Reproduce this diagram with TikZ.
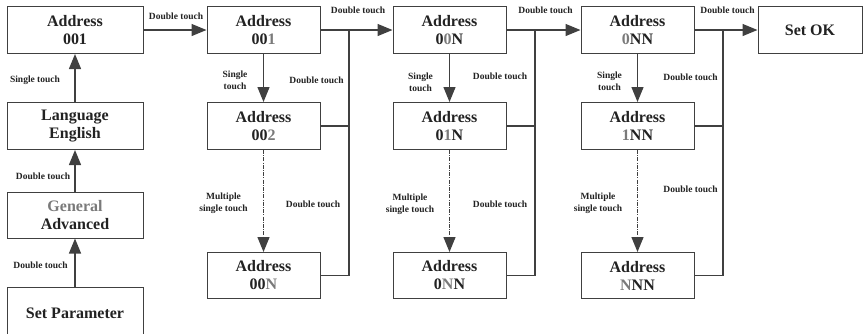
\documentclass[tikz,border=0pt]{standalone}
\usepackage{fontspec}
\setmainfont{Liberation Serif}
\usetikzlibrary{arrows.meta}
\definecolor{ink}{HTML}{222222}
\definecolor{lgrey}{HTML}{7A7A7A}
\definecolor{linec}{HTML}{404040}
\newcommand{\gr}[1]{\textcolor{lgrey}{#1}}
\begin{document}
\begin{tikzpicture}[x=1pt,y=-1pt,
 box/.style={draw=linec, line width=1pt, minimum height=47pt, inner sep=0pt, align=center, text=ink, font=\fontsize{16}{18}\selectfont\bfseries},
 colA/.style={box, minimum width=136pt},
 narrow/.style={box, minimum width=113pt},
 arr/.style={draw=linec, line width=1.3pt, -{Triangle[length=15pt,width=12pt]}},
 wire/.style={draw=linec, line width=1.3pt},
 dd/.style={arr, dash pattern=on 4pt off 1.2pt on 1pt off 1.2pt},
 lbl/.style={align=center, text=ink, inner sep=0pt, font=\fontsize{9.5}{12}\selectfont\bfseries}]
\useasboundingbox (0,0) rectangle (863,333);
\clip (0,0) rectangle (863,333);
% column 1
\node[colA] (a1) at (75,30) {Address\\001};
\node[colA] (a2) at (75,126) {Language\\English};
\node[colA, minimum height=46pt] (a3) at (75,215) {\gr{General}\\Advanced};
\node[colA, minimum height=52pt] (a4) at (75,313) {Set Parameter};
% column 2
\node[narrow] (b1) at (263.5,30) {Address\\00\gr{1}};
\node[narrow] (b2) at (263.5,126) {Address\\00\gr{2}};
\node[narrow, minimum height=46pt] (b3) at (263.5,275.5) {Address\\00\gr{N}};
% column 3
\node[narrow] (c1) at (449.5,30) {Address\\0\gr{0}N};
\node[narrow] (c2) at (449.5,126) {Address\\0\gr{1}N};
\node[narrow, minimum height=46pt] (c3) at (449.5,275.5) {Address\\0\gr{N}N};
% column 4
\node[narrow] (d1) at (637.5,30) {Address\\\gr{0}NN};
\node[narrow] (d2) at (637.5,126) {Address\\\gr{1}NN};
\node[narrow, minimum height=46pt] (d3) at (637.5,275.5) {Address\\\gr{N}NN};
% set ok
\node[box, minimum width=104pt] (e1) at (810,30) {Set OK};
% junctions
\coordinate (j1) at (349,30);
\coordinate (j2) at (535,30);
\coordinate (j3) at (723,30);
% column 1 arrows
\draw[arr] (a4.north) -- (a3.south);
\draw[arr] (a3.north) -- (a2.south);
\draw[arr] (a2.north) -- (a1.south);
\draw[arr] (a1.east) -- (b1.west);
% column 2
\draw[arr] (b1.south) -- (b2.north);
\draw[dd] (b2.south) -- (b3.north);
\draw[arr] (b1.east) -- (c1.west);
\draw[wire] (b3.east) -| (j1);
\draw[wire] (b2.east) -- (b2.east -| j1);
% column 3
\draw[arr] (c1.south) -- (c2.north);
\draw[dd] (c2.south) -- (c3.north);
\draw[arr] (c1.east) -- (d1.west);
\draw[wire] (c3.east) -| (j2);
\draw[wire] (c2.east) -- (c2.east -| j2);
% column 4
\draw[arr] (d1.south) -- (d2.north);
\draw[dd] (d2.south) -- (d3.north);
\draw[arr] (d1.east) -- (e1.west);
\draw[wire] (d3.east) -| (j3);
\draw[wire] (d2.east) -- (d2.east -| j3);
% labels
\node[lbl] (l1) at (176,16) {Double touch};
\node[lbl] (l2) at (35,80) {Single touch};
\node[lbl] (l3) at (43,176) {Double touch};
\node[lbl] (l4) at (40.5,265) {Double touch};
\node[lbl] (l5) at (358,10) {Double touch};
\node[lbl] (l6) at (235,80) {Single\\touch};
\node[lbl] (l7) at (316.5,80) {Double touch};
\node[lbl] (l8) at (223.5,203) {Multiple\\single touch};
\node[lbl] (l9) at (313,204) {Double touch};
\node[lbl] (l10) at (545.5,10) {Double touch};
\node[lbl] (l11) at (420.5,82) {Single\\touch};
\node[lbl] (l12) at (500,76) {Double touch};
\node[lbl] (l13) at (410,204) {Multiple\\single touch};
\node[lbl] (l14) at (500,204) {Double touch};
\node[lbl] (l15) at (727.5,10) {Double touch};
\node[lbl] (l16) at (609.5,81) {Single\\touch};
\node[lbl] (l17) at (690.5,77) {Double touch};
\node[lbl] (l18) at (598,203) {Multiple\\single touch};
\node[lbl] (l19) at (690.5,189) {Double touch};
\end{tikzpicture}
\end{document}
